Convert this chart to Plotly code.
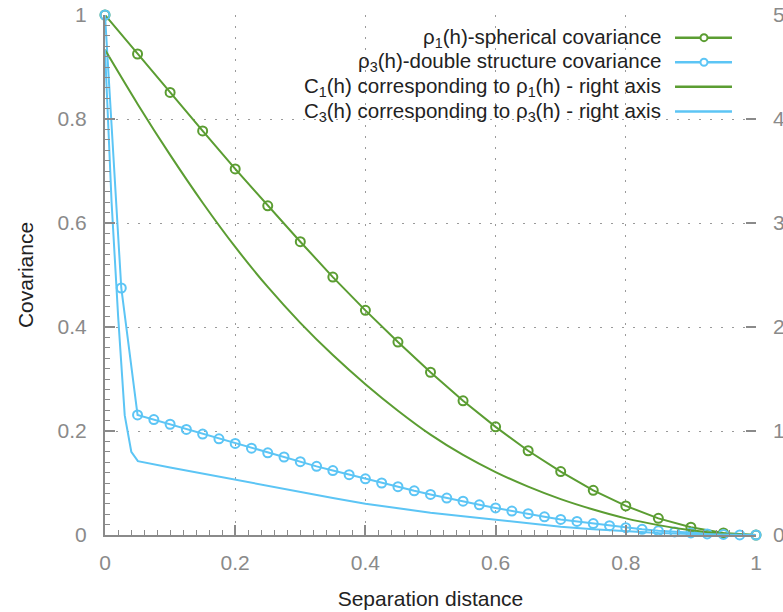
import plotly.graph_objects as go

# ---------------- data ----------------
h_rho1 = [0.0, 0.05, 0.1, 0.15, 0.2, 0.25, 0.3, 0.35, 0.4, 0.45, 0.5,
          0.55, 0.6, 0.65, 0.7, 0.75, 0.8, 0.85, 0.9, 0.95, 1.0]
rho1 = [1.0, 0.925, 0.851, 0.777, 0.704, 0.633, 0.564, 0.496, 0.432, 0.371, 0.313,
        0.258, 0.208, 0.162, 0.122, 0.086, 0.056, 0.032, 0.015, 0.004, 0.0]

h_rho3 = [0.0, 0.025, 0.05, 0.075, 0.1, 0.125, 0.15, 0.175, 0.2, 0.225, 0.25,
          0.275, 0.3, 0.325, 0.35, 0.375, 0.4, 0.425, 0.45, 0.475, 0.5,
          0.525, 0.55, 0.575, 0.6, 0.625, 0.65, 0.675, 0.7, 0.725, 0.75,
          0.775, 0.8, 0.825, 0.85, 0.875, 0.9, 0.925, 0.95, 0.975, 1.0]
rho3 = [1.0, 0.475, 0.231, 0.222, 0.213, 0.203, 0.194, 0.185, 0.176, 0.167, 0.158,
        0.150, 0.141, 0.132, 0.124, 0.116, 0.108, 0.100, 0.093, 0.085, 0.078,
        0.071, 0.065, 0.058, 0.052, 0.046, 0.041, 0.035, 0.030, 0.026, 0.022,
        0.018, 0.014, 0.011, 0.008, 0.006, 0.004, 0.002, 0.001, 0.0002, 0.0]

h_c1 = [0.0, 0.05, 0.1, 0.15, 0.2, 0.25, 0.3, 0.35, 0.4, 0.45, 0.5,
        0.55, 0.6, 0.65, 0.7, 0.75, 0.8, 0.85, 0.9, 0.95, 1.0]
c1 = [4.665, 4.145, 3.655, 3.195, 2.77, 2.385, 2.04, 1.73, 1.45, 1.195, 0.965,
      0.77, 0.605, 0.465, 0.345, 0.245, 0.16, 0.095, 0.045, 0.012, 0.0]

h_c3 = [0.0, 0.0101, 0.0202, 0.0303, 0.0404, 0.0505, 0.1, 0.15, 0.2, 0.25, 0.3,
        0.35, 0.4, 0.45, 0.5, 0.55, 0.6, 0.65, 0.7, 0.75, 0.8,
        0.85, 0.9, 0.95, 1.0]
c3 = [4.665, 3.2, 2.1, 1.15, 0.80, 0.71, 0.65, 0.59, 0.53, 0.47, 0.415,
      0.355, 0.30, 0.255, 0.215, 0.18, 0.145, 0.11, 0.08, 0.055, 0.035,
      0.02, 0.01, 0.0025, 0.0]

x_ticks = [0, 0.2, 0.4, 0.6, 0.8, 1]
x_ticklabels = ["0", "0.2", "0.4", "0.6", "0.8", "1"]
y_ticks = [0, 0.2, 0.4, 0.6, 0.8, 1]
y_ticklabels = ["0", "0.2", "0.4", "0.6", "0.8", "1"]
y2_ticks = [0, 1, 2, 3, 4, 5]
y2_ticklabels = ["0", "1", "2", "3", "4", "5"]

legend_labels = [
    "ρ<sub>1</sub>(h)-spherical covariance",
    "ρ<sub>3</sub>(h)-double structure covariance",
    "C<sub>1</sub>(h) corresponding to ρ<sub>1</sub>(h) - right axis",
    "C<sub>3</sub>(h) corresponding to ρ<sub>3</sub>(h) - right axis",
]

# ---------------- style ----------------
GREEN = "#5b9d32"
BLUE = "#5cc5f5"
GRAY = "#8a8a8a"
FONT = "Liberation Sans, Arial, sans-serif"
FS = 21
FS_LEG = 20.5
legend_colors = [GREEN, BLUE, GREEN, BLUE]
legend_markers = [True, True, False, False]

fig = go.Figure()

fig.add_trace(go.Scatter(
    x=h_rho1, y=rho1, mode="lines+markers", name=legend_labels[0],
    line=dict(color=GREEN, width=2),
    marker=dict(symbol="circle-open", size=9, color=GREEN, line=dict(width=2, color=GREEN)),
    showlegend=False, cliponaxis=False))
fig.add_trace(go.Scatter(
    x=h_rho3, y=rho3, mode="lines+markers", name=legend_labels[1],
    line=dict(color=BLUE, width=2),
    marker=dict(symbol="circle-open", size=9, color=BLUE, line=dict(width=2, color=BLUE)),
    showlegend=False, cliponaxis=False))
fig.add_trace(go.Scatter(
    x=h_c1, y=c1, mode="lines", name=legend_labels[2], yaxis="y2",
    line=dict(color=GREEN, width=2, shape="spline", smoothing=0.8),
    showlegend=False))
fig.add_trace(go.Scatter(
    x=h_c3, y=c3, mode="lines", name=legend_labels[3], yaxis="y2",
    line=dict(color=BLUE, width=2),
    showlegend=False))

# custom legend (text on left, sample on right, like the original)
row_y = [0.9564, 0.9092, 0.8618, 0.8144]
annotations = []
shapes = []
for lbl, col, mk, yy in zip(legend_labels, legend_colors, legend_markers, row_y):
    annotations.append(dict(
        x=0.857, y=yy, xref="paper", yref="paper", text=lbl, showarrow=False,
        xanchor="right", yanchor="middle", font=dict(size=FS_LEG, color="#222222", family=FONT)))
    shapes.append(dict(type="line", xref="paper", yref="paper",
                       x0=0.8756, x1=0.9631, y0=yy, y1=yy,
                       line=dict(color=col, width=2.5)))
    if mk:
        shapes.append(dict(type="circle", xref="paper", yref="paper",
                           xsizemode="pixel", ysizemode="pixel",
                           xanchor=0.9201, yanchor=yy,
                           x0=-3.5, x1=3.5, y0=-3.5, y1=3.5,
                           line=dict(color=col, width=2), fillcolor="white"))

axis_common = dict(
    tickfont=dict(size=FS, color=GRAY, family=FONT),
    ticks="inside", ticklen=10, tickwidth=2, tickcolor=GRAY,
    zeroline=False, automargin=False,
)

fig.update_layout(
    width=783, height=612,
    margin=dict(l=105, r=27, t=15, b=77, autoexpand=False),
    plot_bgcolor="white", paper_bgcolor="white",
    font=dict(family=FONT),
    xaxis=dict(
        range=[0, 1], tickvals=x_ticks, ticktext=x_ticklabels,
        showline=True, linecolor=GRAY, linewidth=2,
        showgrid=True, gridcolor="#9a9a9a", gridwidth=1, griddash="2px,9px",
        minor=dict(ticks="inside", ticklen=5, tickwidth=1, tickcolor=GRAY, dtick=0.02, tick0=0,
                   showgrid=False),
        title=dict(text="Separation distance", font=dict(size=FS, color="#222222", family=FONT),
                   standoff=18),
        ticklabelstandoff=8,
        **axis_common,
    ),
    yaxis=dict(
        range=[0, 1], tickvals=y_ticks, ticktext=y_ticklabels,
        showline=True, linecolor=GRAY, linewidth=2,
        showgrid=True, gridcolor="#9a9a9a", gridwidth=1, griddash="2px,9px",
        minor=dict(ticks="inside", ticklen=5, tickwidth=1, tickcolor=GRAY, dtick=0.02, tick0=0,
                   showgrid=False),
        title=dict(text="Covariance", font=dict(size=FS, color="#222222", family=FONT),
                   standoff=18),
        ticklabelstandoff=12,
        **axis_common,
    ),
    yaxis2=dict(
        range=[0, 5], tickvals=y2_ticks, ticktext=y2_ticklabels,
        overlaying="y", side="right", showgrid=False, showline=False,
        ticklabelstandoff=16,
        **axis_common,
    ),
    annotations=annotations,
    shapes=shapes,
    showlegend=False,
)

fig.write_html("out.html")
